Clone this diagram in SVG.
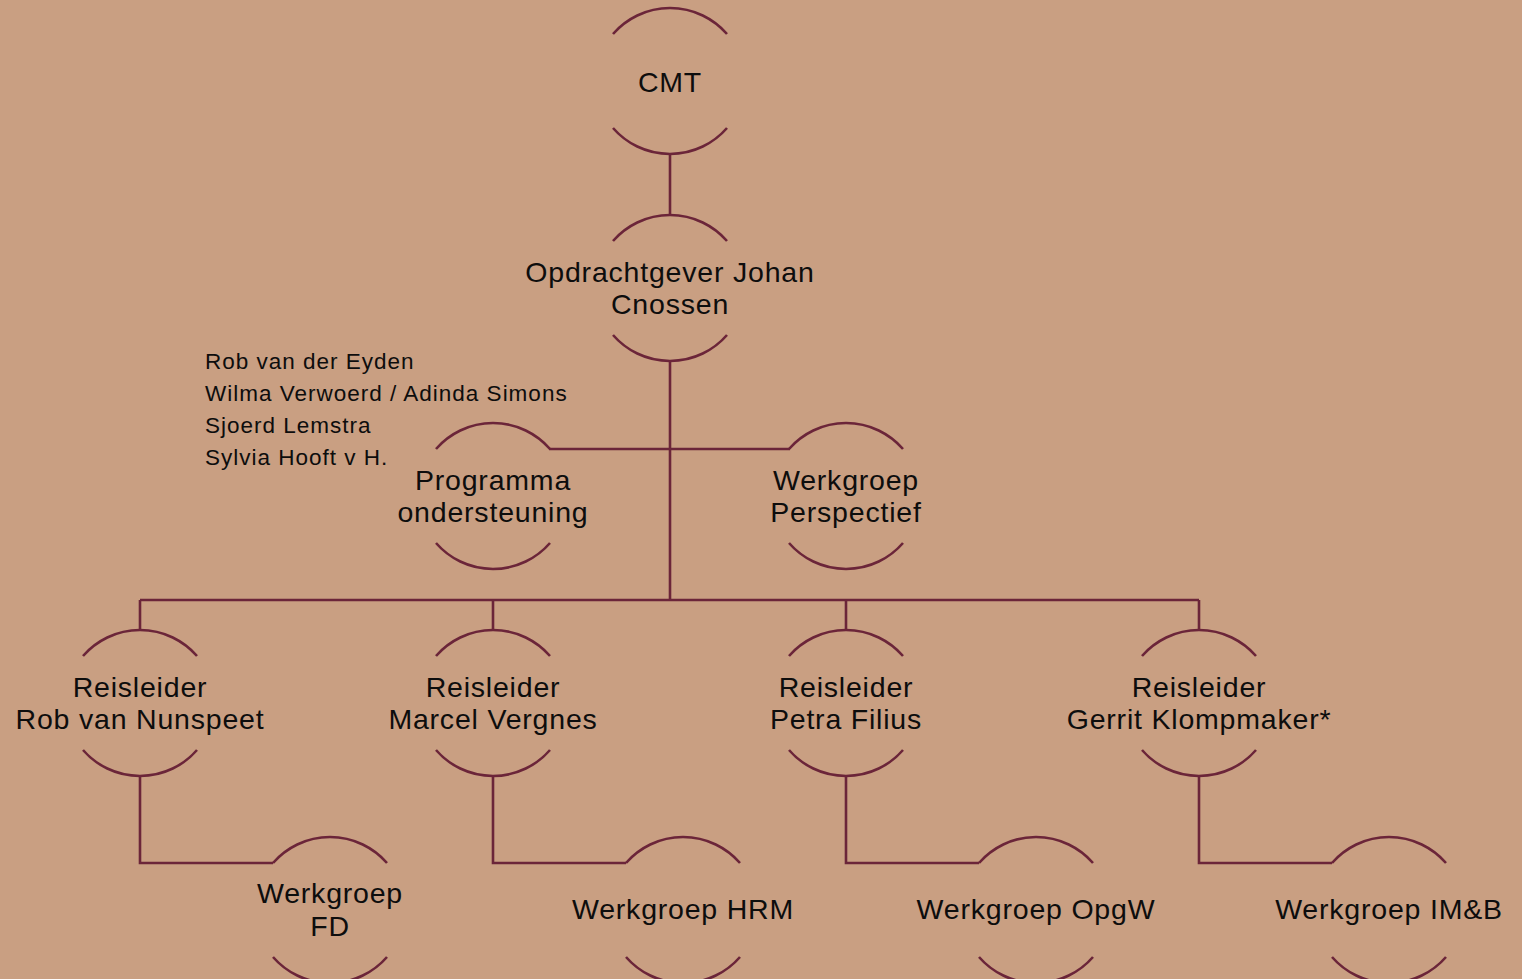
<svg xmlns="http://www.w3.org/2000/svg" width="1522" height="979" viewBox="0 0 1522 979">
<style>
.arc{fill:none;stroke:#6B2539;stroke-width:2.6}
.con{fill:none;stroke:#6B2539;stroke-width:2.6}
.t{font-family:"Liberation Sans",Arial,sans-serif;font-size:28.5px;letter-spacing:0.8px;fill:#0d0d0d;text-anchor:middle}
.s{font-family:"Liberation Sans",Arial,sans-serif;font-size:22.5px;letter-spacing:1px;fill:#0d0d0d}
</style>
<defs>
<g id="shape">
<path class="arc" d="M-57,-47 A75.5,75.5 0 0 1 57,-47"/>
<path class="arc" d="M-57,47 A75.5,75.5 0 0 0 57,47"/>
</g>
</defs>
<rect x="0" y="0" width="1522" height="979" fill="#C99F82"/>
<g id="connectors">
<path class="con" d="M670,154 V215"/>
<path class="con" d="M670,361 V600"/>
<path class="con" d="M549,449 H790"/>
<path class="con" d="M140,600 H1199"/>
<path class="con" d="M140,600 V630 M493,600 V630 M846,600 V630 M1199,600 V630"/>
<path class="con" d="M140,776 V863 H273"/>
<path class="con" d="M493,776 V863 H626"/>
<path class="con" d="M846,776 V863 H979"/>
<path class="con" d="M1199,776 V863 H1332"/>
</g>
<g id="cmt"><use href="#shape" x="670" y="81"/><text class="t" x="670" y="92">CMT</text></g>
<g id="opdrachtgever"><use href="#shape" x="670" y="288"/><text class="t" x="670" y="282">Opdrachtgever Johan</text><text class="t" x="670" y="314">Cnossen</text></g>
<g id="programma"><use href="#shape" x="493" y="496"/><text class="t" x="493" y="490">Programma</text><text class="t" x="493" y="522">ondersteuning</text></g>
<g id="perspectief"><use href="#shape" x="846" y="496"/><text class="t" x="846" y="490">Werkgroep</text><text class="t" x="846" y="522">Perspectief</text></g>
<g id="namen"><text class="s" x="205" y="369">Rob van der Eyden</text><text class="s" x="205" y="401">Wilma Verwoerd / Adinda Simons</text><text class="s" x="205" y="433">Sjoerd Lemstra</text><text class="s" x="205" y="465">Sylvia Hooft v H.</text></g>
<g id="reis1"><use href="#shape" x="140" y="703"/><text class="t" x="140" y="697">Reisleider</text><text class="t" x="140" y="729">Rob van Nunspeet</text></g>
<g id="reis2"><use href="#shape" x="493" y="703"/><text class="t" x="493" y="697">Reisleider</text><text class="t" x="493" y="729">Marcel Vergnes</text></g>
<g id="reis3"><use href="#shape" x="846" y="703"/><text class="t" x="846" y="697">Reisleider</text><text class="t" x="846" y="729">Petra Filius</text></g>
<g id="reis4"><use href="#shape" x="1199" y="703"/><text class="t" x="1199" y="697">Reisleider</text><text class="t" x="1199" y="729">Gerrit Klompmaker*</text></g>
<g id="wg-fd"><use href="#shape" x="330" y="910"/><text class="t" x="330" y="903">Werkgroep</text><text class="t" x="330" y="936">FD</text></g>
<g id="wg-hrm"><use href="#shape" x="683" y="910"/><text class="t" x="683" y="919">Werkgroep HRM</text></g>
<g id="wg-opgw"><use href="#shape" x="1036" y="910"/><text class="t" x="1036" y="919">Werkgroep OpgW</text></g>
<g id="wg-imb"><use href="#shape" x="1389" y="910"/><text class="t" x="1389" y="919">Werkgroep IM&amp;B</text></g>
</svg>
